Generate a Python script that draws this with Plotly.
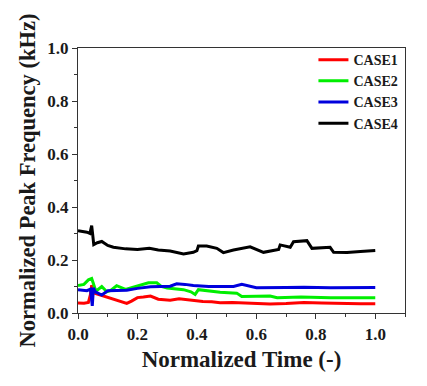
import plotly.graph_objects as go

# Normalized time / values
case1_t = [0.0, 0.02, 0.035, 0.042, 0.046, 0.05, 0.056, 0.07, 0.097, 0.12, 0.14, 0.164, 0.18, 0.2, 0.22, 0.244, 0.27, 0.29, 0.31, 0.34, 0.355, 0.38, 0.42, 0.45, 0.478, 0.52, 0.58, 0.646, 0.7, 0.76, 0.82, 0.9, 0.95, 1.0]
case1_v = [0.038, 0.037, 0.04, 0.07, 0.105, 0.085, 0.075, 0.07, 0.061, 0.05, 0.045, 0.036, 0.045, 0.058, 0.06, 0.064, 0.052, 0.05, 0.048, 0.054, 0.052, 0.048, 0.043, 0.042, 0.039, 0.04, 0.036, 0.034, 0.036, 0.04, 0.038, 0.035, 0.035, 0.035]

case2_t = [0.0, 0.02, 0.035, 0.046, 0.052, 0.06, 0.08, 0.097, 0.11, 0.13, 0.16, 0.2, 0.237, 0.265, 0.28, 0.3, 0.33, 0.355, 0.38, 0.394, 0.405, 0.44, 0.478, 0.534, 0.551, 0.6, 0.646, 0.67, 0.75, 0.85, 0.93, 1.0]
case2_v = [0.104, 0.108, 0.125, 0.13, 0.11, 0.082, 0.1, 0.08, 0.085, 0.103, 0.089, 0.103, 0.114, 0.114, 0.1, 0.094, 0.09, 0.088, 0.08, 0.07, 0.088, 0.082, 0.078, 0.075, 0.062, 0.063, 0.064, 0.058, 0.06, 0.058, 0.058, 0.058]

case3_t = [0.0, 0.03, 0.042, 0.046, 0.048, 0.052, 0.058, 0.08, 0.1, 0.13, 0.164, 0.2, 0.244, 0.31, 0.332, 0.36, 0.388, 0.44, 0.523, 0.551, 0.6, 0.7, 0.76, 0.85, 0.93, 1.0]
case3_v = [0.088, 0.084, 0.09, 0.06, 0.027, 0.095, 0.08, 0.068, 0.084, 0.085, 0.086, 0.093, 0.099, 0.101, 0.11, 0.108, 0.104, 0.1, 0.1, 0.108, 0.095, 0.096, 0.097, 0.095, 0.095, 0.096]

case4_t = [0.0, 0.03, 0.04, 0.046, 0.05, 0.053, 0.065, 0.08, 0.1, 0.119, 0.16, 0.2, 0.24, 0.27, 0.31, 0.355, 0.388, 0.4, 0.405, 0.433, 0.467, 0.489, 0.523, 0.579, 0.624, 0.658, 0.675, 0.68, 0.714, 0.725, 0.77, 0.787, 0.848, 0.86, 0.905, 0.95, 1.0]
case4_v = [0.31, 0.305, 0.3, 0.33, 0.29, 0.258, 0.265, 0.27, 0.255, 0.248, 0.242, 0.24, 0.244, 0.238, 0.234, 0.223, 0.229, 0.235, 0.253, 0.253, 0.244, 0.228, 0.238, 0.25, 0.229, 0.238, 0.24, 0.257, 0.248, 0.269, 0.273, 0.244, 0.248, 0.229, 0.228, 0.232, 0.236]

names = ["CASE1", "CASE2", "CASE3", "CASE4"]
colors = ["#ff0000", "#00ee00", "#0000dd", "#000000"]
series = [(case1_t, case1_v), (case2_t, case2_v), (case3_t, case3_v), (case4_t, case4_v)]

FONT = "Liberation Serif, Times New Roman, serif"

fig = go.Figure()
for (t, v), n, c in zip(series, names, colors):
    fig.add_trace(go.Scatter(x=t, y=v, mode="lines", name=n,
                             line=dict(color=c, width=3)))

axis_common = dict(
    showgrid=False, zeroline=False, showline=True, linecolor="#333333", linewidth=1.2,
    mirror=True, ticks="outside", ticklen=5, tickwidth=1.2, tickcolor="#333333",
    tickfont=dict(family=FONT, size=17, color="#1a1a1a", weight="bold"),
    minor=dict(ticks="outside", ticklen=3, tickwidth=1, tickcolor="#333333", dtick=0.1),
)

fig.update_layout(
    width=427, height=386,
    margin=dict(l=70, r=30, t=40, b=81),
    paper_bgcolor="white", plot_bgcolor="white",
    font=dict(family=FONT, color="#1a1a1a"),
    xaxis=dict(range=[0, 1.1], dtick=0.2, tick0=0, tickformat=".1f",
               title=dict(text="Normalized Time (-)", font=dict(family=FONT, size=23, weight="bold"), standoff=8),
               **axis_common),
    yaxis=dict(range=[0, 1.0], dtick=0.2, tick0=0, tickformat=".1f",
               title=dict(text="Normalized Peak Frequency (kHz)", font=dict(family=FONT, size=22.5, weight="bold"), standoff=5),
               **axis_common),
    legend=dict(x=0.72, y=1.015, xanchor="left", yanchor="top", bgcolor="rgba(0,0,0,0)",
                font=dict(family=FONT, size=14, weight="bold", color="#1a1a1a"),
                tracegroupgap=0, itemwidth=30),
    showlegend=True,
)

fig.write_html("out.html")
